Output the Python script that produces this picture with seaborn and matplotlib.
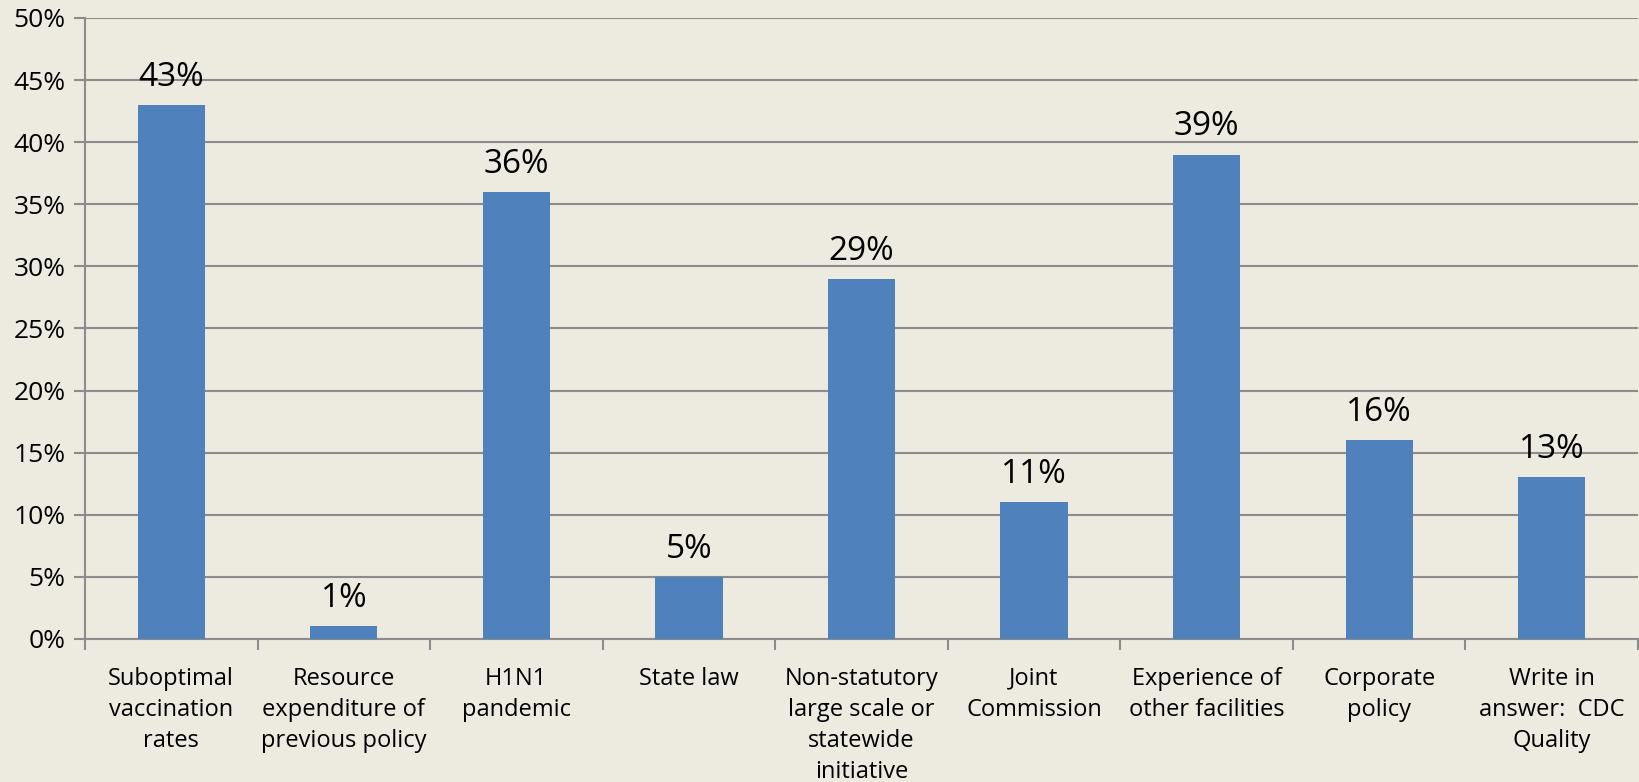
import matplotlib
matplotlib.use("Agg")
import matplotlib.pyplot as plt
from matplotlib.ticker import FixedLocator, PercentFormatter
import seaborn as sns
import pandas as pd

categories = [
    "Suboptimal\nvaccination\nrates",
    "Resource\nexpenditure of\nprevious policy",
    "H1N1\npandemic",
    "State law",
    "Non-statutory\nlarge scale or\nstatewide\ninitiative",
    "Joint\nCommission",
    "Experience of\nother facilities",
    "Corporate\npolicy",
    "Write in\nanswer:  CDC\nQuality",
]
values = [43, 1, 36, 5, 29, 11, 39, 16, 13]
y_ticks = [0, 5, 10, 15, 20, 25, 30, 35, 40, 45, 50]

df = pd.DataFrame({"cat": categories, "val": values})

sns.set_theme(style="white")
plt.rcParams["font.family"] = ["Open Sans", "DejaVu Sans"]

bg = "#EDEBE0"
grid_c = "#8C8C8C"
fig = plt.figure(figsize=(16.4, 7.82), dpi=100, facecolor=bg)
ax = fig.add_axes([0.0518, 0.183, 0.947, 0.794])
ax.set_facecolor(bg)

sns.barplot(data=df, x="cat", y="val", color="#4F81BD", saturation=1, width=0.39,
            linewidth=0, edgecolor="none", ax=ax, zorder=3)

ax.set_ylim(0, 50)
ax.set_xlim(-0.5, len(categories) - 0.5)
ax.yaxis.set_major_locator(FixedLocator(y_ticks))
ax.yaxis.set_major_formatter(PercentFormatter(decimals=0))
ax.grid(axis="y", color=grid_c, linewidth=1.5, zorder=0)
ax.set_axisbelow(True)
for s in ["top", "right"]:
    ax.spines[s].set_visible(False)
for s in ["left", "bottom"]:
    ax.spines[s].set_color(grid_c)
    ax.spines[s].set_linewidth(1.5)

ax.tick_params(axis="y", which="major", left=True, length=8, width=1.5, color=grid_c,
               labelsize=19, labelcolor="black", pad=6)
ax.tick_params(axis="x", which="major", bottom=False, labelsize=17, labelcolor="black", pad=14)
ax.xaxis.set_minor_locator(FixedLocator([i - 0.5 for i in range(len(categories) + 1)]))
ax.tick_params(axis="x", which="minor", bottom=True, length=8, width=1.5, color=grid_c)
ax.set_xlabel("")
ax.set_ylabel("")
for lbl in ax.get_xticklabels():
    lbl.set_linespacing(1.4)
    lbl.set_verticalalignment("top")

for i, v in enumerate(values):
    ax.annotate(f"{v}%", (i, v), xytext=(0, 8), textcoords="offset points",
                ha="center", va="bottom", fontsize=24, color="black")

fig.savefig("out.png", dpi=100, facecolor=bg)
